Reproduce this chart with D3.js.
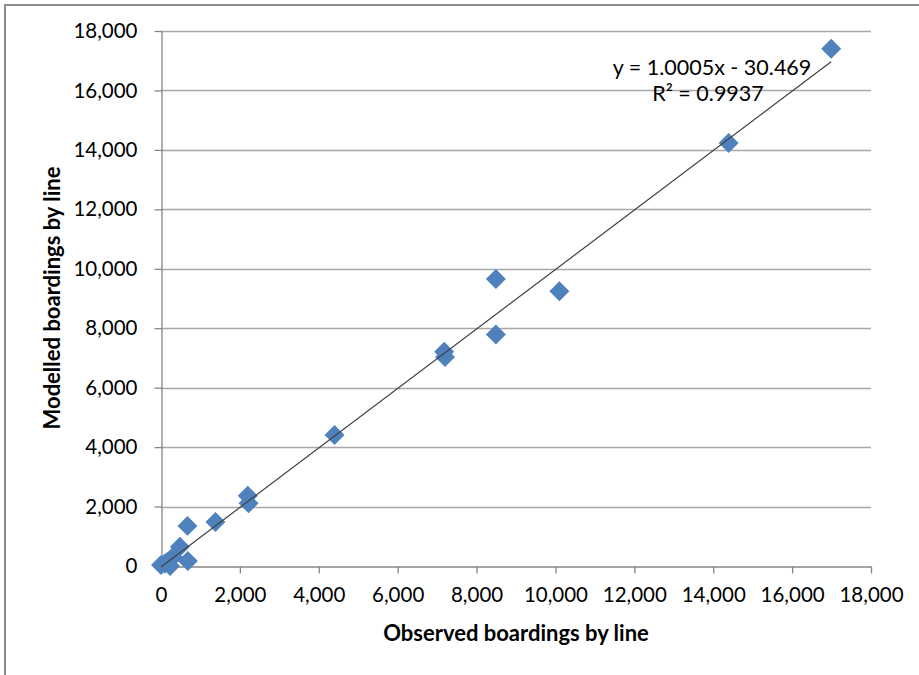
<!DOCTYPE html>
<html>
<head>
<meta charset="utf-8">
<script src="https://cdn.jsdelivr.net/npm/d3@7"></script>
<style>
  html, body { margin: 0; padding: 0; background: #fff; }
  svg { display: block; }
  text { font-family: Lato, "Open Sans", sans-serif; fill: #000; }
</style>
</head>
<body>
<svg id="chart" width="919" height="675"></svg>
<script>
// ---- data ----
const observed = [16990, 14390, 8490, 10100, 8490, 7180, 7200, 4400, 2200, 2220, 1380, 670, 480, 680, 0, 150, 300, 230, 100];
const modelled = [17400, 14230, 9660, 9240, 7790, 7210, 7030, 4410, 2360, 2110, 1480, 1350, 650, 170, 30, 130, 300, 0, 80];
const tickValues = [0, 2000, 4000, 6000, 8000, 10000, 12000, 14000, 16000, 18000];
const trendSlope = 1.0005;
const trendIntercept = -30.469;
const trendLabel = ["y = 1.0005x - 30.469", "R² = 0.9937"];
const xTitle = "Observed boardings by line";
const yTitle = "Modelled boardings by line";

// ---- layout ----
const svg = d3.select("#chart");
const pLeft = 161, pRight = 871, pTop = 31, pBottom = 566;
const x = d3.scaleLinear().domain([0, 18000]).range([pLeft, pRight]);
const y = d3.scaleLinear().domain([0, 18000]).range([pBottom, pTop]);
const fmt = d3.format(",");

svg.append("rect").attr("width", 919).attr("height", 675).attr("fill", "#fff");

// outer chart border (cropped at right/bottom)
svg.append("path")
  .attr("d", "M5,675 L5,5 L919,5")
  .attr("fill", "none").attr("stroke", "#8a8a8a").attr("stroke-width", 2);

// gridlines
svg.append("g").selectAll("line").data(tickValues.filter(d => d > 0)).join("line")
  .attr("x1", pLeft).attr("x2", pRight)
  .attr("y1", d => Math.round(y(d)) + 0.5).attr("y2", d => Math.round(y(d)) + 0.5)
  .attr("stroke", "#a8a8a8").attr("stroke-width", 1.3);

// y axis
const yAxis = svg.append("g").attr("transform", `translate(${pLeft + 0.5},0)`)
  .call(d3.axisLeft(y).tickValues(tickValues).tickFormat(fmt).tickSizeInner(7).tickSizeOuter(0).tickPadding(17));
yAxis.select(".domain").attr("stroke", "#868686").attr("stroke-width", 1.3);
yAxis.selectAll(".tick line").attr("stroke", "#868686").attr("stroke-width", 1.3);
yAxis.selectAll("text").attr("font-family", "Lato, sans-serif").attr("font-size", 20.5).attr("fill", "#000");

// x axis
const xAxis = svg.append("g").attr("transform", `translate(0,${pBottom + 0.5})`)
  .call(d3.axisBottom(x).tickValues(tickValues).tickFormat(fmt).tickSizeInner(7).tickSizeOuter(0).tickPadding(14));
xAxis.select(".domain").attr("stroke", "#868686").attr("stroke-width", 1.3);
xAxis.selectAll(".tick line").attr("stroke", "#868686").attr("stroke-width", 1.3);
xAxis.selectAll("text").attr("font-family", "Lato, sans-serif").attr("font-size", 20.5).attr("fill", "#000");

// markers
const diamond = d3.symbol().type(d3.symbolSquare).size(200);
svg.append("g").selectAll("path").data(observed.map((v, i) => [v, modelled[i]])).join("path")
  .attr("d", diamond)
  .attr("transform", d => `translate(${x(d[0])},${y(d[1])}) rotate(45)`)
  .attr("fill", "#4f81bd");

// trendline
const xMin = d3.min(observed), xMax = d3.max(observed);
svg.append("line")
  .attr("x1", x(xMin)).attr("y1", y(trendSlope * xMin + trendIntercept))
  .attr("x2", x(xMax)).attr("y2", y(trendSlope * xMax + trendIntercept))
  .attr("stroke", "#404040").attr("stroke-width", 1.2);

// trendline label
svg.append("text").attr("x", 712).attr("y", 75).attr("text-anchor", "middle")
  .attr("font-size", 21.5).text(trendLabel[0]);
svg.append("text").attr("x", 708).attr("y", 101).attr("text-anchor", "middle")
  .attr("font-size", 21.5).text(trendLabel[1]);

// axis titles
svg.append("text").attr("x", 516).attr("y", 641).attr("text-anchor", "middle")
  .attr("font-size", 22).attr("font-weight", "bold").text(xTitle);
svg.append("text").attr("transform", "translate(60,298) rotate(-90)").attr("text-anchor", "middle")
  .attr("font-size", 22).attr("font-weight", "bold").text(yTitle);
</script>
</body>
</html>
